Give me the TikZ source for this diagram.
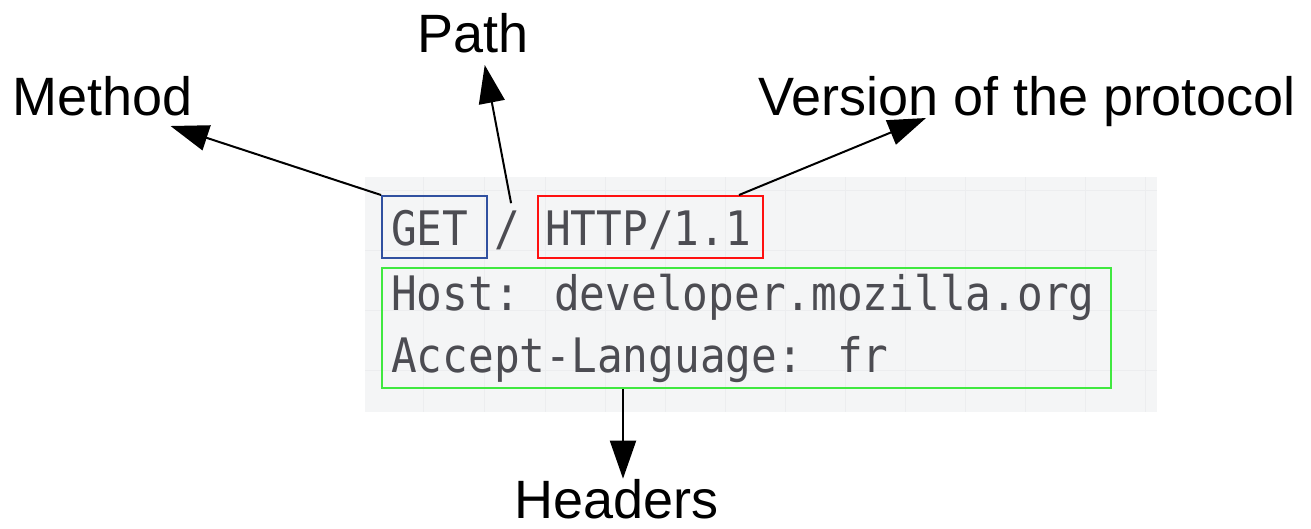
\documentclass[tikz,border=0pt]{standalone}
\usepackage{fontspec}
\setmainfont{Liberation Sans}
\newfontfamily\codefont[FakeStretch=0.9]{DejaVu Sans Mono}
\usetikzlibrary{arrows.meta,calc}
\definecolor{panel}{HTML}{F4F5F6}
\definecolor{gridc}{HTML}{ECEDEF}
\definecolor{codegray}{HTML}{4C4C52}
\definecolor{boxblue}{HTML}{3050A0}
\definecolor{boxred}{HTML}{FF1010}
\definecolor{boxgreen}{HTML}{40E840}
\begin{document}
\begin{tikzpicture}[x=1pt,y=-1pt,
  lbl/.style={font=\fontsize{54}{60}\selectfont, inner sep=0pt, anchor=base west},
  code/.style={font=\codefont\fontsize{47.5}{55}\selectfont, text=codegray, inner sep=0pt, anchor=base west},
  hbox/.style={draw, line width=2pt, inner sep=0pt, anchor=north west},
  conn/.style={line width=2pt, -{Triangle[length=38pt,width=26pt]}}]
\useasboundingbox (0,0) rectangle (1311,528);
% panel with faint grid
\fill[panel] (365,177) rectangle (1157,412);
\foreach \gx in {423,484,545,605,665,725,785,845,905,965,1025,1085,1145}
  \draw[gridc, line width=1pt] (\gx,177) -- (\gx,412);
\foreach \gy in {190,250,310,370}
  \draw[gridc, line width=1pt] (365,\gy) -- (1157,\gy);
% code text
\node[code] (gettxt) at (391,245) {GET};
\node[code] (slashtxt) at (494,245) {/};
\node[code] (httptxt) at (545,245) {HTTP/1.1};
\node[code] (hosttxt) at (391,310) {Host: developer.mozilla.org};
\node[code] (accepttxt) at (391,372) {Accept-Language: fr};
% boxes
\node[hbox, draw=boxblue, minimum width=105pt, minimum height=62pt] (getbox) at (381,195) {};
\node[hbox, draw=boxred, minimum width=225pt, minimum height=62pt] (httpbox) at (537,195) {};
\node[hbox, draw=boxgreen, minimum width=729pt, minimum height=120pt] (hdrbox) at (381,267) {};
% labels
\node[lbl] (method) at (12,115) {Method};
\node[lbl] (path) at (417,52) {Path};
\node[lbl] (version) at (758,115) {Version of the protocol};
\node[lbl] (headers) at (514,518) {Headers};
% connectors
\draw[conn] (getbox.north west) -- ($(method.base east)+(-22,11)$);
\draw[conn] ($(slashtxt.north)+(4,-7)$) -- ($(path.base)+(12,13)$);
\draw[conn] ($(httpbox.north east)+(-25,0)$) -- ($(version.base west)+(168,3)$);
\coordinate (hs) at ($(hdrbox.south west)+(242,0)$);
\draw[conn] (hs) -- (hs |- headers.north);
\end{tikzpicture}
\end{document}
